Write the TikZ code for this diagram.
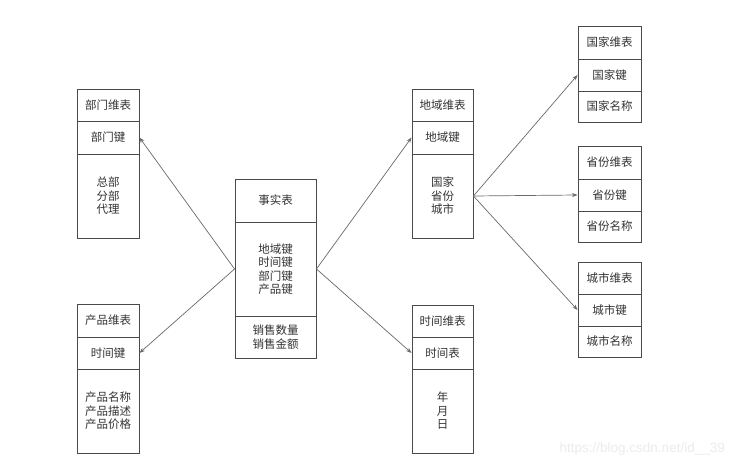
\documentclass[tikz,border=0pt]{standalone}
\usepackage{fontspec}
\newfontfamily\cjk{Noto Sans CJK SC}
\newfontfamily\wmfont{Liberation Sans}
\usetikzlibrary{arrows.meta}
\definecolor{boxc}{HTML}{4A4A4A}
\definecolor{txtc}{HTML}{333333}
\definecolor{linec}{HTML}{6A6A6A}
\definecolor{wmc}{HTML}{ECECEC}
\tikzset{
  cell/.style={draw=boxc, line width=0.9pt, inner sep=0pt, align=center,
    text=txtc, font=\cjk\fontsize{11.5}{13.5}\selectfont},
  cellA/.style={cell, minimum width=62pt},
  cellF/.style={cell, minimum width=81pt},
  cellC/.style={cell, minimum width=61pt},
  cellR/.style={cell, minimum width=63pt},
  conn/.style={draw=linec, line width=0.7pt, -{Stealth[length=5.5pt,width=4pt]}},
}
\begin{document}
\begin{tikzpicture}[x=1pt,y=-1pt]
\useasboundingbox[fill=white] (0,0) rectangle (732,468);

% 部门维表
\node[cellA, minimum height=32pt] (a1) at (108,105) {部门维表};
\node[cellA, minimum height=33pt] (a2) at (108,137.5) {部门键};
\node[cellA, minimum height=84pt] (a3) at (108,196) {总部\\分部\\代理};

% 产品维表
\node[cellA, minimum height=33pt] (b1) at (108,320.5) {产品维表};
\node[cellA, minimum height=32pt] (b2) at (108,353) {时间键};
\node[cellA, minimum height=84pt] (b3) at (108,411) {产品名称\\产品描述\\产品价格};

% 事实表
\node[cellF, minimum height=43pt] (f1) at (275.5,200.5) {事实表};
\node[cellF, minimum height=94pt] (f2) at (275.5,269) {地域键\\时间键\\部门键\\产品键};
\node[cellF, minimum height=42pt] (f3) at (275.5,337) {销售数量\\销售金额};

% 地域维表
\node[cellC, minimum height=32pt] (c1) at (442.5,105) {地域维表};
\node[cellC, minimum height=33pt] (c2) at (442.5,137.5) {地域键};
\node[cellC, minimum height=84pt] (c3) at (442.5,196) {国家\\省份\\城市};

% 时间维表
\node[cellC, minimum height=32pt] (d1) at (442.5,321) {时间维表};
\node[cellC, minimum height=32pt] (d2) at (442.5,353) {时间表};
\node[cellC, minimum height=84pt] (d3) at (442.5,411) {年\\月\\日};

% 国家维表
\node[cellR, minimum height=33pt] (g1) at (609.5,42.5) {国家维表};
\node[cellR, minimum height=32pt] (g2) at (609.5,75) {国家键};
\node[cellR, minimum height=31pt] (g3) at (609.5,106.5) {国家名称};

% 省份维表
\node[cellR, minimum height=33pt] (p1) at (609.5,162.5) {省份维表};
\node[cellR, minimum height=32pt] (p2) at (609.5,195) {省份键};
\node[cellR, minimum height=31pt] (p3) at (609.5,226.5) {省份名称};

% 城市维表
\node[cellR, minimum height=32pt] (s1) at (609.5,278) {城市维表};
\node[cellR, minimum height=32pt] (s2) at (609.5,310) {城市键};
\node[cellR, minimum height=31pt] (s3) at (609.5,341.5) {城市名称};

% connectors
\draw[conn] (f2.west) -- (a2.east);
\draw[conn] (f2.west) -- (b2.east);
\draw[conn] (f2.east) -- (c2.west);
\draw[conn] (f2.east) -- (d2.west);
\draw[conn] (c3.east) -- (g2.west);
\draw[conn] (c3.east) -- (p2.west);
\draw[conn] (c3.east) -- (s2.west);

% watermark
\node[text=wmc, font=\wmfont\fontsize{13.5}{15}\selectfont, anchor=east, inner sep=0pt] (wm) at (725,449) {https://blog.csdn.net/id\_\_39};
\end{tikzpicture}
\end{document}
